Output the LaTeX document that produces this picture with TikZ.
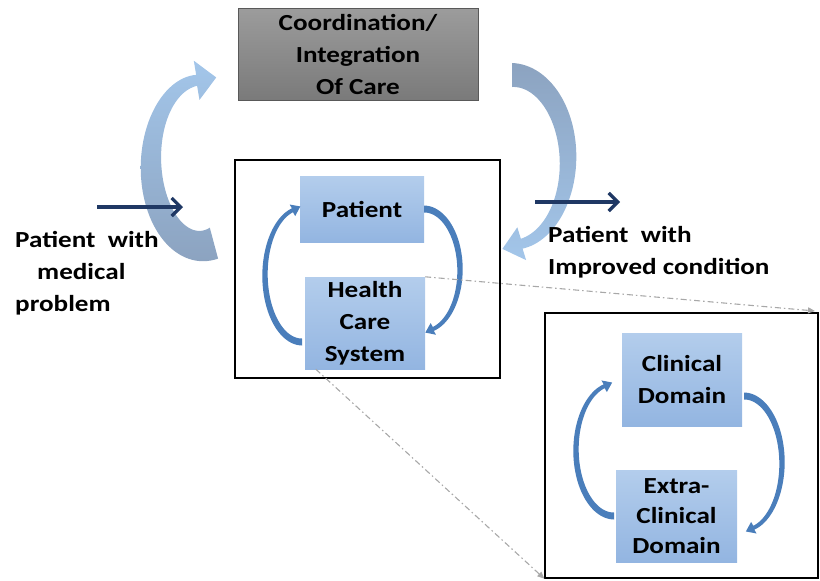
\documentclass[tikz,border=0pt]{standalone}
\usepackage{fontspec}
\setmainfont{Carlito}[FakeStretch=1.18]
\usetikzlibrary{arrows.meta}
\definecolor{navy}{HTML}{1F3864}
\definecolor{sblue}{HTML}{4A7EBB}
\definecolor{lblue}{HTML}{A3C6EA}
\definecolor{gblue}{HTML}{8CA3C0}
\definecolor{boxtop}{HTML}{B3CDEC}
\definecolor{boxbot}{HTML}{93B5E1}
\definecolor{graytop}{HTML}{9C9C9C}
\definecolor{graybot}{HTML}{7A7A7A}
\definecolor{dashgray}{HTML}{A8A8A8}
\def\hwf{3.2}\def\hlf{2.2}
\newcommand{\taperarc}[9]{%
  \pgfmathsetmacro{\tpPx}{#1+#3*cos(#6)}%
  \pgfmathsetmacro{\tpPy}{#2+#4*sin(#6)}%
  \pgfmathsetmacro{\tpDx}{-#3*sin(#6)}%
  \pgfmathsetmacro{\tpDy}{#4*cos(#6)}%
  \pgfmathsetmacro{\tpDn}{sqrt((\tpDx)*(\tpDx)+(\tpDy)*(\tpDy))}%
  \pgfmathsetmacro{\tpUx}{(\tpDx)/\tpDn}%
  \pgfmathsetmacro{\tpUy}{(\tpDy)/\tpDn}%
  \pgfmathsetmacro{\tpHw}{\hwf*#8/2}%
  \pgfmathsetmacro{\tpHl}{\hlf*#8}%
  \path[#9] plot[domain=#5:#6,samples=60,variable=\t]
     ({#1+(#3+(#7+(#8-#7)*(\t-#5)/(#6-#5))/2)*cos(\t)},{#2+(#4+(#7+(#8-#7)*(\t-#5)/(#6-#5))/2)*sin(\t)})
     -- ({\tpPx+(\tpUy)*\tpHw},{\tpPy-(\tpUx)*\tpHw})
     -- ({\tpPx+(\tpUx)*\tpHl},{\tpPy+(\tpUy)*\tpHl})
     -- ({\tpPx-(\tpUy)*\tpHw},{\tpPy+(\tpUx)*\tpHw})
     -- plot[domain=#6:#5,samples=60,variable=\t]
     ({#1+(#3-(#7+(#8-#7)*(\t-#5)/(#6-#5))/2)*cos(\t)},{#2+(#4-(#7+(#8-#7)*(\t-#5)/(#6-#5))/2)*sin(\t)})
     -- cycle;
}
\tikzset{
  txt/.style={font=\bfseries\fontsize{23}{32}\selectfont, inner sep=0pt, text=black},
  gbox/.style={txt, rectangle, top color=graytop, bottom color=graybot, draw=black!65, line width=0.8pt, align=center, text=black},
  bbox/.style={txt, rectangle, top color=boxtop, bottom color=boxbot, align=center},
  frame/.style={rectangle, draw=black, line width=1.3pt, inner sep=0pt},
  dashline/.style={draw=dashgray, line width=1.1pt, dash pattern=on 6pt off 3pt on 1.5pt off 3pt, -{Triangle[length=7pt,width=6pt]}},
  navyarrow/.style={draw=navy, line width=3.2pt, -{Straight Barb[length=9pt,width=18pt]}}
}
\begin{document}
\begin{tikzpicture}[x=1pt,y=-1pt]
\useasboundingbox (0,0) rectangle (820,581);
% frames
\node[frame, minimum width=265pt, minimum height=218pt] (mframe) at (367.5,269) {};
\node[frame, minimum width=273pt, minimum height=265pt] (rframe) at (681.5,445.5) {};
% big arrows
\def\hwf{3.6}\def\hlf{1.8}
\taperarc{201}{163}{50}{83}{75}{265}{32}{11}{top color=lblue, bottom color=gblue}
\def\hwf{3.4}\def\hlf{2.0}
\taperarc{512}{160}{56}{85}{270}{440}{24}{10}{top color=gblue, bottom color=lblue}
% boxes
\node[gbox, minimum width=240pt, minimum height=92pt] (coord) at (358,54) {Coordination/\\Integration\\Of Care};
\node[bbox, minimum width=124pt, minimum height=66pt] (patient) at (362,209) {Patient};
\node[bbox, minimum width=120pt, minimum height=92pt] (hcs) at (365,323) {Health\\Care\\System};
\node[bbox, minimum width=120pt, minimum height=93pt] (clin) at (682,379.5) {Clinical\\Domain};
\node[bbox, minimum width=121pt, minimum height=92pt, font=\bfseries\fontsize{23}{30}\selectfont] (extra) at (676.5,516) {Extra-\\Clinical\\Domain};
% small cycle arrows
\def\hwf{3.2}\def\hlf{2.2}
\taperarc{302}{275}{37}{67}{90}{255}{7}{4}{fill=sblue}
\taperarc{424}{270}{36}{61}{270}{435}{7}{4}{fill=sblue}
\taperarc{614}{450}{38}{66}{90}{255}{7}{4}{fill=sblue}
\taperarc{744}{463}{38}{67}{270}{435}{7}{4}{fill=sblue}
% dash-dot connectors
\coordinate (d1e) at (815,311);
\draw[dashline] (hcs.north east) -- (d1e);
\draw[dashline] ([xshift=11pt]hcs.south west) -- (rframe.south west);
% navy arrows
\coordinate (na1s) at (97,207);
\coordinate (na1e) at (183,207);
\coordinate (na2s) at (535,202);
\coordinate (na2e) at (620,202);
\draw[navyarrow] (na1s) -- (na1e);
\draw[navyarrow] (na2s) -- (na2e);
% side labels
\node[txt, anchor=base west] (l1) at (15,247) {Patient~~with};
\node[txt, anchor=base west] (l2) at (37,279) {medical};
\node[txt, anchor=base west] (l3) at (15,311) {problem};
\node[txt, anchor=base west] (r1) at (548,242) {Patient~~with};
\node[txt, anchor=base west] (r2) at (548,274) {Improved condition};
\end{tikzpicture}
\end{document}
